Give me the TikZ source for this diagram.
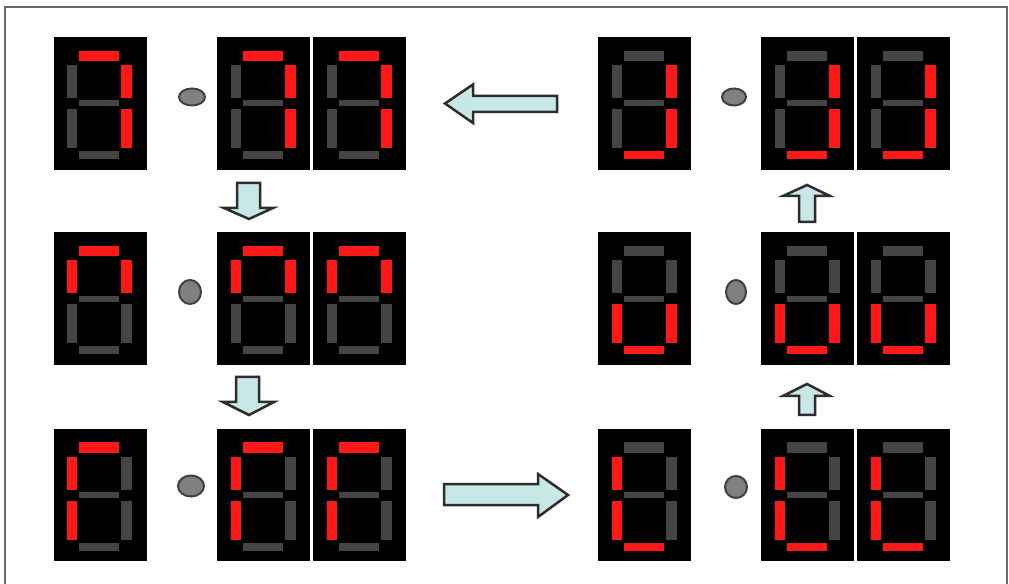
\documentclass[tikz,border=0pt]{standalone}
\usepackage{tikz}
\usetikzlibrary{shapes.geometric}

\definecolor{segred}{RGB}{255,24,24}
\definecolor{seggray}{RGB}{68,68,68}
\definecolor{dotgray}{RGB}{128,128,128}
\definecolor{arrowfill}{RGB}{200,232,232}
\definecolor{arrowline}{RGB}{45,45,45}
\definecolor{framegray}{RGB}{105,105,105}

\tikzset{
  display/.style={rectangle, fill=black, inner sep=0pt, minimum width=9.3mm, minimum height=13.3mm},
  segon/.style={fill=segred},
  segoff/.style={fill=seggray},
  sepdot/.style={ellipse, draw=black!75, fill=dotgray, line width=0.2mm, inner sep=0pt},
  blockarrow/.style={draw=arrowline, fill=arrowfill, line width=0.25mm, line join=miter}
}

% #1 name, #2 centre, #3..#9 segments a b c d e f g (on/off)
\newcommand{\sevenseg}[9]{%
  \node[display] (#1) at (#2) {};
  \begin{scope}[shift={(#2)}]
    \fill[seg#3] (-2.1,4.25) rectangle (1.9,5.25);
    \fill[seg#4] (2.1,0.55) rectangle (3.2,3.85);
    \fill[seg#5] (2.1,-0.55) rectangle (3.2,-4.45);
    \fill[seg#6] (-2.1,-4.75) rectangle (1.9,-5.55);
    \fill[seg#7] (-3.3,-0.55) rectangle (-2.3,-4.45);
    \fill[seg#8] (-3.3,0.55) rectangle (-2.3,3.85);
    \fill[seg#9] (-2.1,-0.3) rectangle (1.9,0.3);
  \end{scope}}

\begin{document}
\begin{tikzpicture}[scale=0.1]
  \useasboundingbox (0,0) rectangle (100.9,-58.4);
  \fill[white] (0,0) rectangle (100.9,-58.4);
  \draw[framegray, line width=0.2mm] (0.45,-58.4) -- (0.45,-0.75) -- (100.65,-0.75) -- (100.65,-58.4);

  \sevenseg{l1s}{10,-10.35}{on}{on}{on}{off}{off}{off}{off}
  \sevenseg{l1t}{26.35,-10.35}{on}{on}{on}{off}{off}{off}{off}
  \sevenseg{l1u}{35.95,-10.35}{on}{on}{on}{off}{off}{off}{off}
  \node[sepdot, minimum width=2.6mm, minimum height=1.7mm] (l1dot) at (19.2,-9.7) {};

  \sevenseg{l2s}{10,-29.9}{on}{on}{off}{off}{off}{on}{off}
  \sevenseg{l2t}{26.35,-29.9}{on}{on}{off}{off}{off}{on}{off}
  \sevenseg{l2u}{35.95,-29.9}{on}{on}{off}{off}{off}{on}{off}
  \node[sepdot, minimum width=2.2mm, minimum height=2.4mm] (l2dot) at (19.0,-29.2) {};

  \sevenseg{l3s}{10,-49.5}{on}{off}{off}{off}{on}{on}{off}
  \sevenseg{l3t}{26.35,-49.5}{on}{off}{off}{off}{on}{on}{off}
  \sevenseg{l3u}{35.95,-49.5}{on}{off}{off}{off}{on}{on}{off}
  \node[sepdot, minimum width=2.6mm, minimum height=2.1mm] (l3dot) at (19.1,-48.6) {};

  \sevenseg{r1s}{64.45,-10.35}{off}{on}{on}{on}{off}{off}{off}
  \sevenseg{r1t}{80.75,-10.35}{off}{on}{on}{on}{off}{off}{off}
  \sevenseg{r1u}{90.35,-10.35}{off}{on}{on}{on}{off}{off}{off}
  \node[sepdot, minimum width=2.4mm, minimum height=1.7mm] (r1dot) at (73.4,-9.7) {};

  \sevenseg{r2s}{64.45,-29.9}{off}{off}{on}{on}{on}{off}{off}
  \sevenseg{r2t}{80.75,-29.9}{off}{off}{on}{on}{on}{off}{off}
  \sevenseg{r2u}{90.35,-29.9}{off}{off}{on}{on}{on}{off}{off}
  \node[sepdot, minimum width=2.0mm, minimum height=2.4mm] (r2dot) at (73.6,-29.2) {};

  \sevenseg{r3s}{64.45,-49.5}{off}{off}{off}{on}{on}{on}{off}
  \sevenseg{r3t}{80.75,-49.5}{off}{off}{off}{on}{on}{on}{off}
  \sevenseg{r3u}{90.35,-49.5}{off}{off}{off}{on}{on}{on}{off}
  \node[sepdot, minimum width=2.2mm, minimum height=2.2mm] (r3dot) at (73.6,-48.7) {};

  \draw[blockarrow] (44.5,-10.35) -- (47.3,-8.45) -- (47.3,-9.6) -- (55.7,-9.6) -- (55.7,-11.2) -- (47.3,-11.2) -- (47.3,-12.3) -- cycle;
  \draw[blockarrow] (56.8,-49.5) -- (53.8,-47.4) -- (53.8,-48.4) -- (44.4,-48.4) -- (44.4,-50.5) -- (53.8,-50.5) -- (53.8,-51.7) -- cycle;
  \draw[blockarrow] (24.9,-21.9) -- (22.4,-20.8) -- (23.7,-20.8) -- (23.7,-18.3) -- (26.0,-18.3) -- (26.0,-20.8) -- (27.3,-20.8) -- cycle;
  \draw[blockarrow] (24.9,-41.5) -- (22.3,-40.2) -- (23.6,-40.2) -- (23.6,-37.7) -- (25.9,-37.7) -- (25.9,-40.2) -- (27.4,-40.2) -- cycle;
  \draw[blockarrow] (80.7,-18.5) -- (78.3,-19.6) -- (79.9,-19.6) -- (79.9,-22.2) -- (81.5,-22.2) -- (81.5,-19.6) -- (83.0,-19.6) -- cycle;
  \draw[blockarrow] (80.7,-38.4) -- (78.3,-39.6) -- (79.9,-39.6) -- (79.9,-41.5) -- (81.5,-41.5) -- (81.5,-39.6) -- (83.0,-39.6) -- cycle;
\end{tikzpicture}
\end{document}
